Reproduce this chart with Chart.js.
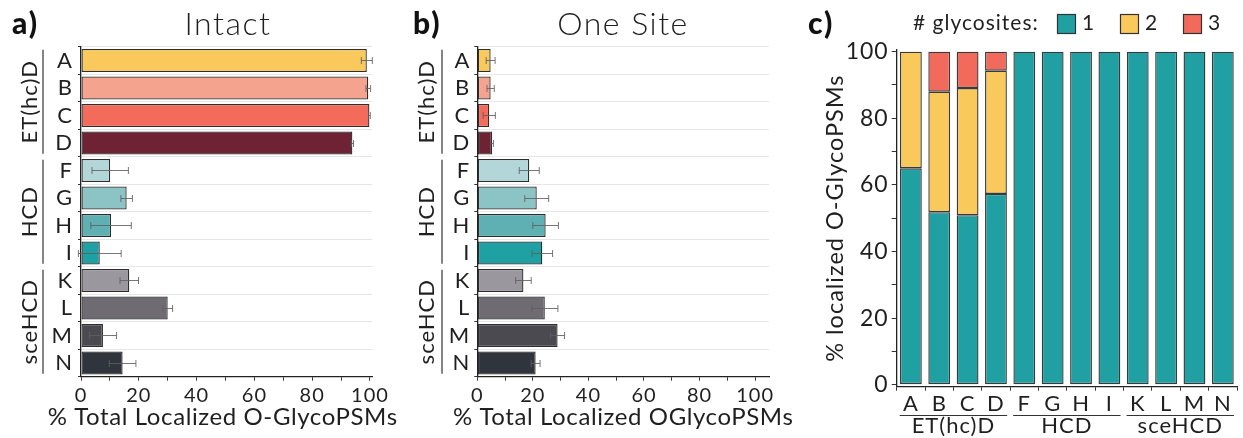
<!DOCTYPE html>
<html>
<head>
<meta charset="utf-8">
<script src="https://cdn.jsdelivr.net/npm/chart.js@4.4.1/dist/chart.umd.min.js"></script>
<style>
  html, body { margin: 0; padding: 0; background: #fff; }
  body { width: 1243px; height: 438px; position: relative; overflow: hidden; }
  canvas { position: absolute; top: 0; display: block; }
</style>
</head>
<body>
<canvas id="panelA" width="420" height="438" style="left:0"></canvas>
<canvas id="panelB" width="400" height="438" style="left:405px"></canvas>
<canvas id="panelC" width="453" height="438" style="left:790px"></canvas>
<script>
// ---- data ----
const categories = ['A', 'B', 'C', 'D', 'F', 'G', 'H', 'I', 'K', 'L', 'M', 'N'];
const groupNames = ['ET(hc)D', 'HCD', 'sceHCD'];
const groupSizes = [4, 4, 4];

// % of total localized O-GlycoPSMs, mean and error
const intactMean = [98.9, 99.4, 99.8, 93.9, 10.1, 15.8, 10.4, 6.5, 16.7, 30.0, 7.6, 14.4];
const intactErr  = [1.9, 0.8, 0.3, 0.4, 6.3, 2.0, 7.0, 7.4, 3.2, 1.7, 4.7, 4.6];
const oneSiteMean = [4.8, 4.8, 4.3, 5.3, 18.7, 21.4, 24.6, 23.4, 16.6, 24.3, 28.9, 21.0];
const oneSiteErr  = [1.6, 1.3, 2.2, 0.5, 3.6, 4.3, 4.6, 3.7, 2.8, 4.7, 2.5, 1.6];

// % localized O-GlycoPSMs by number of glycosites
const glycositeCounts = ['1', '2', '3'];
const oneGlycosite    = [65.0, 51.8, 50.9, 57.3, 100, 100, 100, 100, 100, 100, 100, 100];
const twoGlycosites   = [35.0, 36.2, 38.2, 37.0, 0, 0, 0, 0, 0, 0, 0, 0];
const threeGlycosites = [0, 12.0, 10.9, 5.7, 0, 0, 0, 0, 0, 0, 0, 0];

// ---- styling ----
const FONT = "Lato, 'Open Sans', 'DejaVu Sans', sans-serif";
const INK = '#1f1f1f';
const barColors = ['#F9C95C', '#F4A48E', '#F26B5B', '#6E2233',
                   '#B3D7D8', '#8CC4C6', '#5FB0B2', '#1FA0A2',
                   '#9A979E', '#6E6B73', '#4B4A51', '#30343D'];
const siteColors = ['#20A0A2', '#F9C95C', '#F26A5C'];

// slightly open tracking for all canvas text
const tracking = {
  id: 'tracking',
  beforeDraw(chart) { chart.ctx.letterSpacing = '1px'; }
};

// error bars drawn from the x scale
const errorBars = {
  id: 'errorBars',
  afterDatasetsDraw(chart) {
    const ds = chart.data.datasets[0];
    const errs = ds.errors;
    if (!errs) return;
    const xs = chart.scales.x;
    const meta = chart.getDatasetMeta(0);
    const ctx = chart.ctx;
    ctx.save();
    ctx.strokeStyle = 'rgba(95,95,95,0.85)';
    ctx.lineWidth = 1;
    meta.data.forEach((bar, i) => {
      const v = ds.data[i], e = errs[i];
      const x0 = xs.getPixelForValue(v - e), x1 = xs.getPixelForValue(v + e);
      const y = Math.round(bar.y) + 0.5;
      ctx.beginPath();
      ctx.moveTo(x0, y); ctx.lineTo(x1, y);
      ctx.moveTo(x0, y - 3.5); ctx.lineTo(x0, y + 3.5);
      ctx.moveTo(x1, y - 3.5); ctx.lineTo(x1, y + 3.5);
      ctx.stroke();
    });
    ctx.restore();
  }
};

// x-axis caption, allowed to run wider than the plot
const axisCaption = {
  id: 'axisCaption',
  afterDraw(chart, args, opts) {
    const ctx = chart.ctx;
    const area = chart.chartArea;
    ctx.save();
    ctx.letterSpacing = '0.6px';
    ctx.font = `${opts.size}px ${FONT}`;
    ctx.fillStyle = INK;
    ctx.textAlign = 'center';
    ctx.textBaseline = 'alphabetic';
    ctx.fillText(opts.text, (area.left + area.right) / 2 + (opts.shift || 0), opts.baseline);
    ctx.restore();
  }
};

// group brackets beside the category axis (vertical for panels a/b, horizontal for c)
const groupBrackets = {
  id: 'groupBrackets',
  afterDraw(chart, args, opts) {
    const ctx = chart.ctx;
    const horizontal = opts.axis === 'x';
    const sc = chart.scales[opts.axis];
    const half = Math.abs(sc.getPixelForValue(1) - sc.getPixelForValue(0)) / 2;
    ctx.save();
    ctx.strokeStyle = '#333';
    ctx.lineWidth = 1.2;
    ctx.fillStyle = INK;
    ctx.font = `${opts.size}px ${FONT}`;
    ctx.textAlign = 'center';
    ctx.textBaseline = 'alphabetic';
    let start = 0;
    groupNames.forEach((name, g) => {
      const end = start + groupSizes[g] - 1;
      const a = sc.getPixelForValue(start) - half + 3;
      const b = sc.getPixelForValue(end) + half - 3;
      ctx.beginPath();
      if (horizontal) {
        ctx.moveTo(a, opts.line); ctx.lineTo(b, opts.line);
        ctx.stroke();
        ctx.fillText(name, (a + b) / 2, opts.label);
      } else {
        ctx.moveTo(opts.line, a); ctx.lineTo(opts.line, b);
        ctx.stroke();
        ctx.save();
        ctx.translate(opts.label, (a + b) / 2);
        ctx.rotate(-Math.PI / 2);
        ctx.fillText(name, 0, 0);
        ctx.restore();
      }
      start = end + 1;
    });
    ctx.restore();
  }
};

// panel tag and heading
const panelHeading = {
  id: 'panelHeading',
  afterDraw(chart, args, opts) {
    const ctx = chart.ctx;
    ctx.save();
    ctx.fillStyle = '#111';
    ctx.textBaseline = 'alphabetic';
    ctx.letterSpacing = '2px';
    ctx.font = `900 30px ${FONT}`;
    ctx.textAlign = 'left';
    ctx.fillText(opts.tag, opts.tagX, 34);
    if (opts.title) {
      ctx.letterSpacing = '1.5px';
      ctx.font = `300 32px ${FONT}`;
      ctx.textAlign = 'center';
      ctx.fillStyle = INK;
      ctx.fillText(opts.title, opts.titleX, 35);
    }
    ctx.restore();
  }
};

// inline legend for the stacked panel
const inlineLegend = {
  id: 'inlineLegend',
  afterDraw(chart, args, opts) {
    const ctx = chart.ctx;
    ctx.save();
    ctx.font = `21px ${FONT}`;
    ctx.fillStyle = INK;
    ctx.textBaseline = 'alphabetic';
    ctx.textAlign = 'left';
    ctx.fillText(opts.heading, opts.x, 30);
    chart.data.datasets.forEach((ds, i) => {
      const bx = opts.boxes[i];
      ctx.fillStyle = ds.backgroundColor;
      ctx.fillRect(bx, 14, 18, 19);
      ctx.strokeStyle = '#333';
      ctx.lineWidth = 1.2;
      ctx.strokeRect(bx + 0.5, 14.5, 18, 19);
      ctx.fillStyle = INK;
      ctx.fillText(ds.label, bx + 25, 30);
    });
    ctx.restore();
  }
};

function tickEvery20(v) { return v % 20 === 0 ? String(v) : ''; }

function horizontalPanel(id, means, errs, opts) {
  return new Chart(document.getElementById(id), {
    type: 'bar',
    data: {
      labels: categories,
      datasets: [{
        data: means,
        errors: errs,
        backgroundColor: barColors,
        borderColor: '#2e2e2e',
        borderWidth: 1.3,
        borderSkipped: false,
        barPercentage: 0.84,
        categoryPercentage: 1
      }]
    },
    options: {
      indexAxis: 'y',
      responsive: false,
      animation: false,
      layout: { padding: { top: 46.7, right: opts.padRight, bottom: 0, left: 0 } },
      plugins: {
        legend: { display: false },
        tooltip: { enabled: false },
        groupBrackets: { axis: 'y', line: opts.bracketLine, label: opts.bracketLabel, size: 22 },
        panelHeading: { tag: opts.tag, tagX: opts.tagX, title: opts.title, titleX: opts.titleX },
        axisCaption: { text: opts.xTitle, size: 24, baseline: 425, shift: opts.captionShift }
      },
      scales: {
        x: {
          min: 0, max: opts.xMax,
          ticks: { stepSize: 10, includeBounds: false, autoSkip: false, maxRotation: 0,
                   callback: tickEvery20, color: INK, padding: 3, font: { family: FONT, size: 20 } },
          grid: { drawOnChartArea: false, drawTicks: true, tickLength: 4, tickColor: '#333', tickWidth: 1 },
          border: { color: '#222', width: 1.3 },
          afterFit(s) { s.height = 61.3; }
        },
        y: {
          ticks: { autoSkip: false, color: INK, padding: opts.tickPad, font: { family: FONT, size: 22 } },
          grid: { color: '#e6e6e6', lineWidth: 1, offset: true, tickLength: 3, tickColor: '#333' },
          border: { color: '#222', width: 1.3 },
          afterFit(s) { s.width = opts.axisWidth; }
        }
      }
    },
    plugins: [tracking, errorBars, groupBrackets, panelHeading, axisCaption]
  });
}

horizontalPanel('panelA', intactMean, intactErr, {
  xMax: 100.8, padRight: 47.7, axisWidth: 81, tickPad: 5, captionShift: -4,
  bracketLine: 43, bracketLabel: 37, tag: 'a)', tagX: 12, title: 'Intact', titleX: 228,
  xTitle: '% Total Localized O-GlycoPSMs'
});

horizontalPanel('panelB', oneSiteMean, oneSiteErr, {
  xMax: 105, padRight: 36, axisWidth: 72.3, tickPad: 4, captionShift: 0,
  bracketLine: 37, bracketLabel: 28.5, tag: 'b)', tagX: 8, title: 'One Site', titleX: 218,
  xTitle: '% Total Localized OGlycoPSMs'
});

const stackSeries = [oneGlycosite, twoGlycosites, threeGlycosites];
new Chart(document.getElementById('panelC'), {
  type: 'bar',
  data: {
    labels: categories,
    datasets: stackSeries.map((vals, i) => ({
      label: glycositeCounts[i],
      data: vals,
      backgroundColor: siteColors[i],
      borderColor: '#3a3a3a',
      borderWidth: 1.4,
      borderSkipped: false,
      barPercentage: 0.77,
      categoryPercentage: 1
    }))
  },
  options: {
    responsive: false,
    animation: false,
    layout: { padding: { top: 49.7, right: 6, bottom: 0, left: 0 } },
    plugins: {
      legend: { display: false },
      tooltip: { enabled: false },
      groupBrackets: { axis: 'x', line: 415.5, label: 433, size: 22 },
      panelHeading: { tag: 'c)', tagX: 18 },
      inlineLegend: { heading: '# glycosites:', x: 123, boxes: [267, 330, 393] }
    },
    scales: {
      x: {
        stacked: true,
        ticks: { autoSkip: false, maxRotation: 0, color: INK, padding: 0, font: { family: FONT, size: 22 } },
        grid: { drawOnChartArea: false, offset: true, tickLength: 4, tickColor: '#333' },
        border: { color: '#222', width: 1.3 },
        afterFit(s) { s.height = 51.3; }
      },
      y: {
        stacked: true,
        min: -0.6, max: 100.6,
        ticks: { stepSize: 10, includeBounds: false, autoSkip: false, callback: tickEvery20,
                 color: INK, padding: 3, font: { family: FONT, size: 23 } },
        grid: { drawOnChartArea: false, tickLength: 5, tickColor: '#333' },
        border: { color: '#222', width: 1.3 },
        title: { display: true, text: '% localized O-GlycoPSMs', color: INK,
                 font: { family: FONT, size: 23.5 }, padding: { top: 31, bottom: 0 } },
        afterFit(s) { s.width = 106.7; }
      }
    }
  },
  plugins: [tracking, groupBrackets, panelHeading, inlineLegend]
});
</script>
</body>
</html>
